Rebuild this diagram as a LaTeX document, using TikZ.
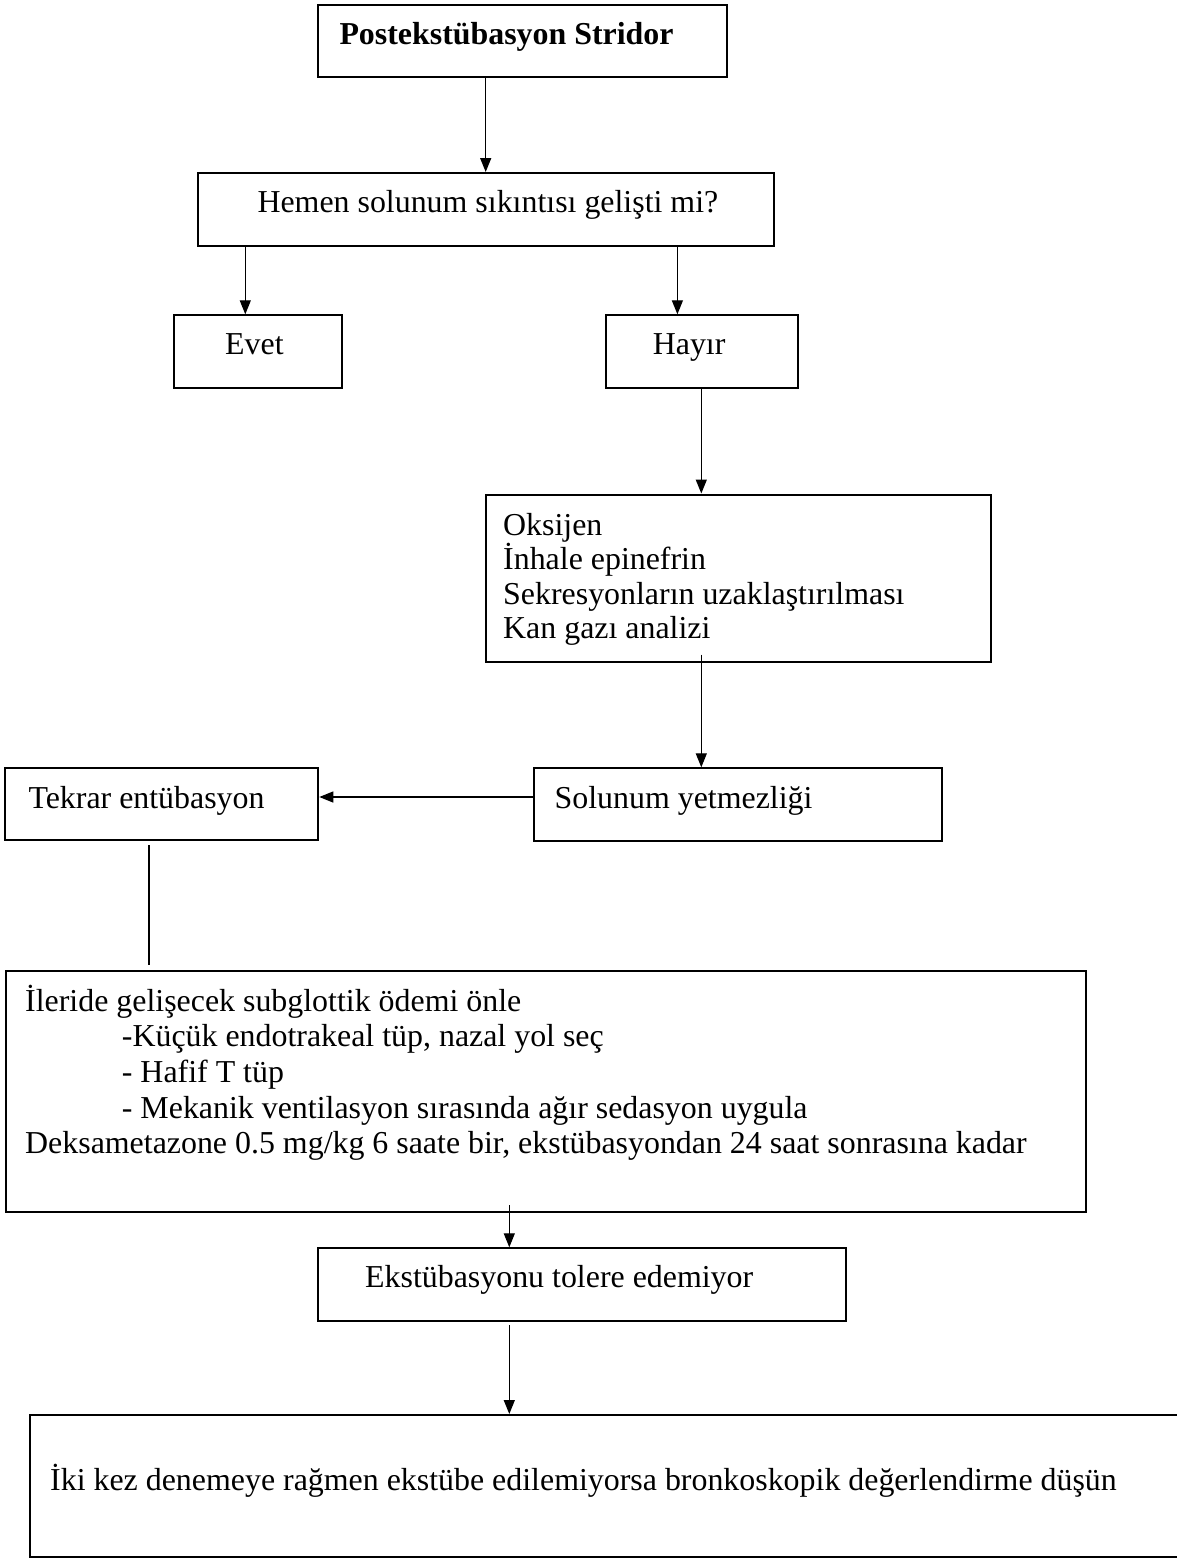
\documentclass[tikz,border=0pt]{standalone}
\usepackage{fontspec}
\setmainfont{Liberation Serif}
\usetikzlibrary{arrows.meta,calc}
\begin{document}
\begin{tikzpicture}[x=1pt,y=-1pt,
  box/.style={draw,line width=2pt,rectangle,inner sep=0pt,anchor=north west},
  txt/.style={anchor=base west,inner sep=0pt,font=\fontsize{31.9}{35}\selectfont},
  arr/.style={line width=1.3pt,-{Triangle[length=14pt,width=11pt]}},
  ln/.style={line width=1.3pt}]
\useasboundingbox (0,0) rectangle (1176,1558);
\fill[white] (0,0) rectangle (1176,1558);

% boxes
\node[box,minimum width=408.5pt,minimum height=72.3pt] (title) at (317,4) {};
\node[box,minimum width=576pt,minimum height=72.5pt] (hemen) at (197,172) {};
\node[box,minimum width=168pt,minimum height=72.7pt] (evet) at (173.3,314.3) {};
\node[box,minimum width=192pt,minimum height=72.7pt] (hayir) at (605.3,314.3) {};
\node[box,minimum width=505.3pt,minimum height=167pt] (oks) at (484.7,493.5) {};
\node[box,minimum width=408pt,minimum height=72.2pt] (sol) at (533.3,767.3) {};
\node[box,minimum width=313.3pt,minimum height=72pt] (tekrar) at (4,767.3) {};
\node[box,minimum width=1080.5pt,minimum height=241pt] (big) at (4.5,970) {};
\node[box,minimum width=528.3pt,minimum height=72.7pt] (ekst) at (317,1247.3) {};
\node[box,minimum width=1171.5pt,minimum height=142.3pt] (final) at (28.5,1414) {};

% texts
\node[txt] (t1) at (339.3,44.3) {\bfseries Postekstübasyon Stridor};
\node[txt] (t2) at (257.3,212.7) {Hemen solunum sıkıntısı gelişti mi?};
\node[txt] (t3) at (225,354) {Evet};
\node[txt] (t4) at (652.6,354) {Hayır};
\node[txt] (t5a) at (503,535) {Oksijen};
\node[txt] (t5b) at (503,569.5) {İnhale epinefrin};
\node[txt] (t5c) at (503,604) {Sekresyonların uzaklaştırılması};
\node[txt] (t5d) at (503,638) {Kan gazı analizi};
\node[txt] (t6) at (554.4,808) {Solunum yetmezliği};
\node[txt] (t7) at (28.3,808) {Tekrar entübasyon};
\node[txt] (t8a) at (25,1011) {İleride gelişecek subglottik ödemi önle};
\node[txt] (t8b) at (121.7,1046.7) {-Küçük endotrakeal tüp, nazal yol seç};
\node[txt] (t8c) at (121.7,1082.4) {- Hafif T tüp};
\node[txt] (t8d) at (121.7,1118.1) {- Mekanik ventilasyon sırasında ağır sedasyon uygula};
\node[txt] (t8e) at (25,1153.8) {Deksametazone 0.5 mg/kg 6 saate bir, ekstübasyondan 24 saat sonrasına kadar};
\node[txt] (t9) at (365,1287) {Ekstübasyonu tolere edemiyor};
\node[txt] (t10) at (50,1490) {İki kez denemeye rağmen ekstübe edilemiyorsa bronkoskopik değerlendirme düşün};

% connector columns
\coordinate (c1) at (485.7,0);
\coordinate (c2) at (245.3,0);
\coordinate (c3) at (677.4,0);
\coordinate (c4) at (701.3,0);
\coordinate (r1) at (0,797);
\coordinate (c5) at (149,0);
\coordinate (c6) at (509.3,0);

\draw[arr] (title.south -| c1) -- (hemen.north -| c1);
\draw[arr] (hemen.south -| c2) -- (evet.north -| c2);
\draw[arr] (hemen.south -| c3) -- (hayir.north -| c3);
\draw[arr] (hayir.south -| c4) -- (oks.north -| c4);
\draw[arr] ($(oks.south -| c4)+(0,-8)$) -- (sol.north -| c4);
\draw[arr] (sol.west |- r1) -- (tekrar.east |- r1);
\draw[ln] ($(tekrar.south -| c5)+(0,4)$) -- ($(big.north -| c5)+(0,-5)$);
\draw[arr] ($(big.south -| c6)+(0,-8)$) -- (ekst.north -| c6);
\draw[arr] ($(ekst.south -| c6)+(0,3)$) -- (final.north -| c6);
\end{tikzpicture}
\end{document}
